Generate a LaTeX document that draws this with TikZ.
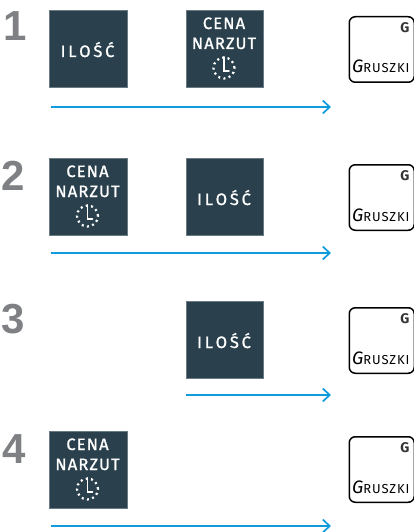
\documentclass[tikz,border=0pt]{standalone}
\usepackage{fontspec}
\setmainfont{Fira Sans}
\newfontfamily\tilefont[LetterSpace=7,FakeBold=1.2]{Fira Sans}
\newfontfamily\numfont{Liberation Sans}
\newfontfamily\keyfont[LetterSpace=7]{Fira Sans}
\usetikzlibrary{arrows.meta}
\definecolor{boxdark}{HTML}{2A414D}
\definecolor{flow}{HTML}{0F9BDC}
\definecolor{numgray}{HTML}{7E8083}
\tikzset{
  x=1pt,y=-1pt,
  tile/.style={fill=boxdark,draw=boxdark!70!white,line width=.4pt,minimum width=77.5pt,minimum height=77pt,inner sep=0pt,anchor=north west},
  tiletext/.style={text=white,inner sep=0pt,font=\tilefont\fontsize{16.5}{16.5}\selectfont},
  stepno/.style={text=numgray,inner sep=0pt,font=\numfont\fontsize{42}{42}\selectfont\bfseries},
  keycap/.style={draw=black,line width=1.5pt,rounded corners=6pt,fill=white,minimum width=65pt,minimum height=65.5pt,inner sep=0pt,anchor=north west},
  flowline/.style={draw=flow,line width=1.5pt,-{Straight Barb[length=7pt,width=13pt,line width=1.7pt]}},
  pics/ilosc/.style={code={
    \node[tile] (#1) at (0,0) {};
    \node[tiletext,anchor=base] at (38.5,47) {I\,L\,O\,Ś\,Ć};
  }},
  pics/cena/.style={code={
    \node[tile] (#1) at (0,0) {};
    \node[tiletext,anchor=base] at (38.5,19) {CENA};
    \node[tiletext,anchor=base] at (38.5,39) {NARZUT};
    \draw[white,line width=2.2pt,dash pattern=on 2pt off 3.4pt] (38.5,58) circle (10.5pt);
    \draw[white,line width=1.7pt,line cap=round] (38.5,47) -- (38.5,61) -- (43.5,61);
  }},
  pics/gruszki/.style={code={
    \node[keycap] (#1) at (0,0) {};
    \node[inner sep=0pt,font=\fontsize{14}{14}\selectfont\bfseries,text=black!80] at (56.5,12) {G};
    \node[inner sep=0pt,anchor=base west,text=black] at (3.5,57) {\fontsize{18}{18}\selectfont\textit{G}\keyfont\fontsize{13}{13}\selectfont RUSZKI};
  }},
}
\begin{document}
\begin{tikzpicture}
\useasboundingbox (0,0) rectangle (414,532);
% row 1
\node[stepno] (n1) at (15,26) {1};
\pic at (49,10) {ilosc=a1};
\pic at (185.5,10) {cena=b1};
\pic at (348.5,16) {gruszki=k1};
\coordinate (s1) at (51,107); \coordinate (e1) at (331,107);
\draw[flowline] (s1) -- (e1);
% row 2
\node[stepno] (n2) at (13,176) {2};
\pic at (49,158) {cena=a2};
\pic at (185.5,158) {ilosc=b2};
\pic at (348.5,164) {gruszki=k2};
\coordinate (s2) at (51,253); \coordinate (e2) at (331,253);
\draw[flowline] (s2) -- (e2);
% row 3
\node[stepno] (n3) at (13,319) {3};
\pic at (185.5,301) {ilosc=b3};
\pic at (348.5,307) {gruszki=k3};
\coordinate (s3) at (186,395); \coordinate (e3) at (331,395);
\draw[flowline] (s3) -- (e3);
% row 4
\node[stepno] (n4) at (14,449) {4};
\pic at (49,431) {cena=a4};
\pic at (348.5,436) {gruszki=k4};
\coordinate (s4) at (51,526); \coordinate (e4) at (331,526);
\draw[flowline] (s4) -- (e4);
\end{tikzpicture}
\end{document}
